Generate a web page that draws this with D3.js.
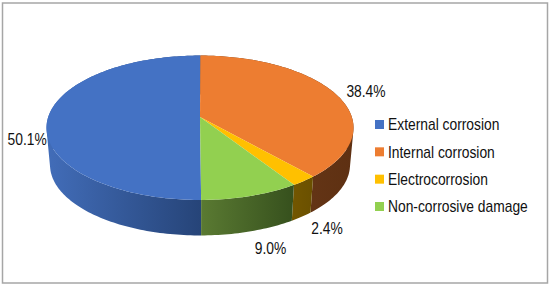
<!DOCTYPE html>
<html>
<head>
<script src="https://d3js.org/d3.v7.min.js"></script>
<style>
  html, body { margin: 0; padding: 0; background: #fff; }
  svg { display: block; }
  text { font-family: "Liberation Sans", Arial, sans-serif; fill: #111; }
</style>
</head>
<body>
<div id="viz"></div>
<script>
var categories = ["External corrosion", "Internal corrosion", "Electrocorrosion", "Non-corrosive damage"];
var shares = [50.1, 38.4, 2.4, 9.0];
var percentLabels = ["50.1%", "38.4%", "2.4%", "9.0%"];

var topColors = ["#4472c4", "#ed7d31", "#ffc000", "#92d050"];
var sideLight = ["#426db9", "#633415", "#725600", "#5a7a32"];
var sideDark = ["#264478", "#5e3012", "#6a5000", "#36501d"];
// nudges from the rim point at each slice's middle
var labelNudge = [[-21, 22], [31, -2], [23, 47], [20, 52]];

var width = 550, height = 287;

var svg = d3.select("#viz").append("svg")
    .attr("width", width)
    .attr("height", height);

// frame
svg.append("rect")
    .attr("x", 2.5).attr("y", 3)
    .attr("width", 545).attr("height", 280)
    .style("fill", "#fff")
    .style("stroke", "#a6a6a6")
    .style("stroke-width", 1.5);

// tilted pie: apex sits above the ellipse middle because of the perspective
var cx = 200, cy = 117, R = 151.8, Ry = 70.6, k = 0.149;

function rim(a) {
    var u = Math.sin(a), v = -Math.cos(a), w = 1 - k * v;
    return [cx + R * u / w, cy + Ry * v / w];
}
function lower(p) {
    return [cx + (p[0] - cx) * 0.977, p[1] * 0.977 + 40.1];
}
function arcPoints(d) {
    var n = Math.ceil((d.endAngle - d.startAngle) / 0.02);
    return d3.range(n + 1).map(function (i) {
        return rim(d.startAngle + (d.endAngle - d.startAngle) * i / n);
    });
}

var pie = d3.pie()
    .sort(null)
    .startAngle(-2 * Math.PI * 0.501)
    .endAngle(2 * Math.PI * 0.499);
var slices = pie(shares);
var line = d3.line();
var defs = svg.append("defs");

// side walls first, the top covers whatever is behind
slices.forEach(function (d, i) {
    var pts = arcPoints(d);
    var front = pts.filter(function (p) { return p[1] > 120; });
    var x = d3.scaleLinear()
        .domain(d3.extent(front, function (p) { return p[0]; }));

    var grad = defs.append("linearGradient")
        .attr("id", "side" + i)
        .attr("gradientUnits", "userSpaceOnUse")
        .attr("x1", x.domain()[0]).attr("x2", x.domain()[1])
        .attr("y1", 0).attr("y2", 0);
    grad.append("stop").attr("offset", 0).attr("stop-color", sideLight[i]);
    grad.append("stop").attr("offset", 1).attr("stop-color", sideDark[i]);

    // one quad per rim step so the wall also fills out to the silhouette,
    // all wound the same way or the overlaps cancel under nonzero fill
    var wall = d3.pairs(pts).map(function (s) {
        var quad = [s[0], s[1], lower(s[1]), lower(s[0])];
        if (d3.polygonArea(quad) < 0) quad.reverse();
        return line(quad) + "Z";
    }).join("");

    svg.append("path")
        .attr("d", wall)
        .style("fill", "url(#side" + i + ")");
});

svg.selectAll("path.top")
    .data(slices)
    .enter().append("path")
    .attr("class", "top")
    .attr("d", function (d) {
        return line([[cx, cy]].concat(arcPoints(d))) + "Z";
    })
    .style("fill", function (d, i) { return topColors[i]; });

// percentages
svg.selectAll("text.pct")
    .data(slices)
    .enter().append("text")
    .attr("class", "pct")
    .attr("text-anchor", "middle")
    .attr("dy", "0.36em")
    .attr("transform", function (d, i) {
        var p = rim((d.startAngle + d.endAngle) / 2);
        return "translate(" + (p[0] + labelNudge[i][0]) + "," + (p[1] + labelNudge[i][1]) + ") scale(0.865,1)";
    })
    .style("font-size", "16px")
    .text(function (d, i) { return percentLabels[i]; });

// legend
var legendY = d3.scalePoint()
    .domain(categories)
    .range([124.5, 206.5]);

var legend = svg.selectAll("g.legend")
    .data(categories)
    .enter().append("g")
    .attr("class", "legend")
    .attr("transform", function (d) { return "translate(375," + legendY(d) + ")"; });

legend.append("rect")
    .attr("x", 0).attr("y", -4.5)
    .attr("width", 9).attr("height", 9)
    .style("fill", function (d, i) { return topColors[i]; });

legend.append("text")
    .attr("transform", "translate(13,0) scale(0.865,1)")
    .attr("dy", "0.36em")
    .style("font-size", "16px")
    .text(function (d) { return d; });
</script>
</body>
</html>
